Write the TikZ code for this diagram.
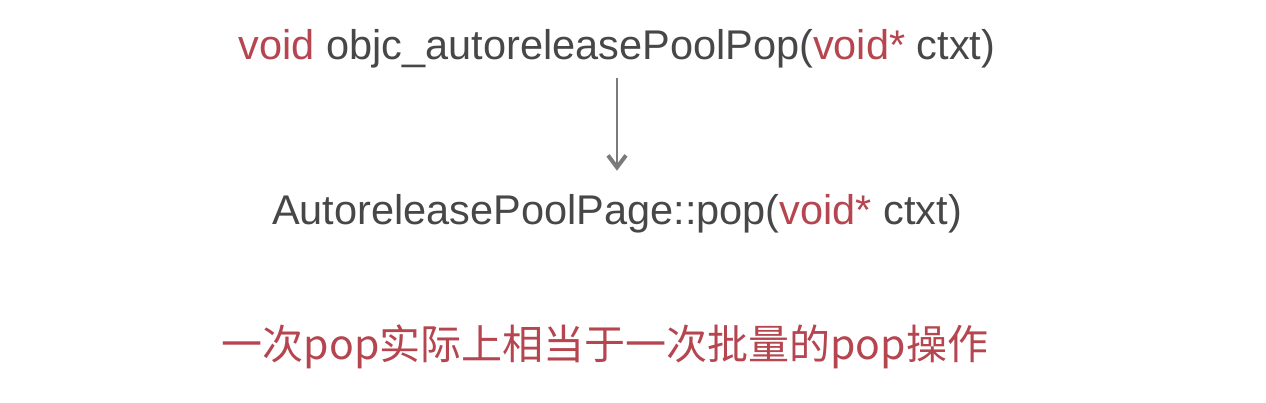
\documentclass[tikz,border=0pt]{standalone}
\usepackage{fontspec}
\setmainfont{Liberation Sans}
\newfontfamily\cjkfont{Noto Sans CJK SC}
\usetikzlibrary{arrows.meta}

\definecolor{codegray}{HTML}{474747}
\definecolor{keyred}{HTML}{B5454F}
\definecolor{arrowgray}{HTML}{7A7A7A}
\newcommand{\kw}[1]{\textcolor{keyred}{#1}}

\begin{document}
\begin{tikzpicture}[x=1pt,y=-1pt,
		code/.style={inner sep=0pt, anchor=base, text=codegray, font=\fontsize{41.5}{41.5}\selectfont},
		note/.style={inner sep=0pt, anchor=base, text=keyred, font=\cjkfont\fontsize{41}{41}\selectfont},
		flow/.style={draw=arrowgray, line width=1.5pt, -{Straight Barb[length=12pt,width=18pt,line width=4pt]}}]

				\useasboundingbox (0,0) rectangle (1266,402);

				% the two calls
				\node[code] (sig) at (617,59) {\kw{void} objc\_autoreleasePoolPop(\kw{void*} ctxt)};
				\node[code] (page) at (617,224) {AutoreleasePoolPage::pop(\kw{void*} ctxt)};

				\draw[flow, shorten <=10pt, shorten >=23pt] (sig.south) -- (page.north);

				% remark below
				\node[note] (remark) at (605,359) {一次pop实际上相当于一次批量的pop操作};
			\end{tikzpicture}
\end{document}
